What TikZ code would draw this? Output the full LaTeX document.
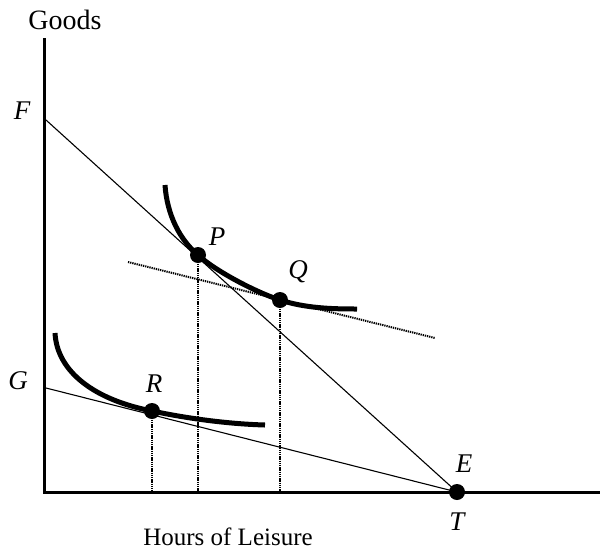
\documentclass[tikz,border=0pt]{standalone}
\usepackage{fontspec}
\setmainfont{Liberation Serif}
\begin{document}
\begin{tikzpicture}[x=1pt,y=-1pt,
  axis/.style={line width=3pt},
  budget/.style={line width=1.1pt},
  icurve/.style={line width=5pt},
  guide/.style={line width=2pt, dash pattern=on 1.3pt off 0.9pt},
  pt/.style={circle, fill=black, inner sep=0pt, minimum size=16pt},
  lab/.style={font=\fontsize{27}{31}\selectfont\itshape, inner sep=0pt},
  txt/.style={font=\fontsize{25}{29}\selectfont, inner sep=0pt}]
\useasboundingbox (0,0) rectangle (600,550);
% coordinates
\coordinate (O) at (44,492);
\coordinate (Ytop) at (44,38);
\coordinate (Xend) at (600,492);
\coordinate (Fp) at (46,120);
\coordinate (Gp) at (46,388);
\coordinate (Pax) at (198,492);
\coordinate (Qax) at (280,492);
\coordinate (Rax) at (152,492);
\coordinate (Ls) at (128,262);
\coordinate (Le) at (435,338);
% axes
\draw[axis] (Ytop) -- (O.center) -- (Xend);
% budget lines
\node[pt] (E) at (457,492) {};
\draw[budget] (Fp) -- (E.center);
\draw[budget] (Gp) -- (E.center);
% dotted tangent
\draw[guide] (Ls) -- (Le);
% points
\node[pt] (P) at (198,255) {};
\node[pt] (Q) at (280,300) {};
\node[pt] (R) at (152,411) {};
% indifference curves
\draw[icurve] (165,185) .. controls (167,215) and (180,240) .. (P.center)
  .. controls (214,270) and (255,292) .. (Q.center)
  .. controls (305,308) and (330,309) .. (357,309);
\draw[icurve] (55,333) .. controls (57,372) and (95,400) .. (R.center)
  .. controls (190,419) and (230,424) .. (265,425);
% dotted verticals
\draw[guide] (P.center) -- (Pax);
\draw[guide] (Q.center) -- (Qax);
\draw[guide] (R.center) -- (Rax);
% labels
\node[txt, font=\fontsize{28}{32}\selectfont] (goods) at (65,20) {Goods};
\node[txt] (hours) at (228,537) {Hours of Leisure};
\node[lab] (lF) at (22,111) {F};
\node[lab] (lG) at (18,381) {G};
\node[lab] (lP) at (217,237) {P};
\node[lab] (lQ) at (298,272) {Q};
\node[lab] (lR) at (154,384) {R};
\node[lab] (lE) at (464,464) {E};
\node[lab] (lT) at (457,522) {T};
\end{tikzpicture}
\end{document}
